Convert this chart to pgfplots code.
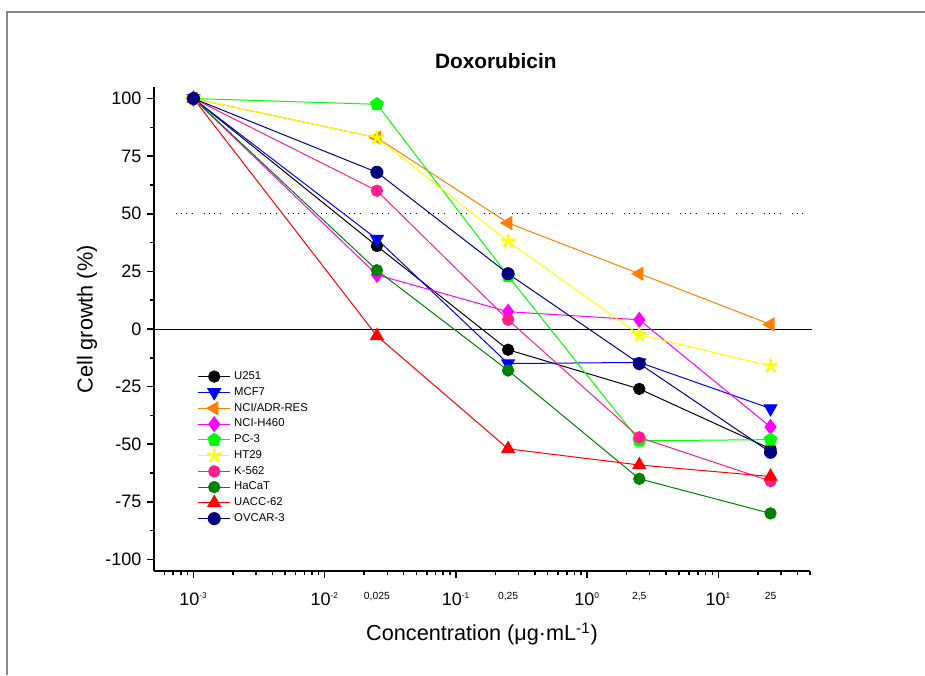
\documentclass[border=0pt]{standalone}
\usepackage{pgfplots}
\pgfplotsset{compat=1.18}
\usepackage{fontspec}
\setmainfont{Liberation Sans}
\usetikzlibrary{plotmarks}

\definecolor{cOrange}{RGB}{255,128,0}
\definecolor{cMagenta}{RGB}{255,0,255}
\definecolor{cGreen}{RGB}{0,255,0}
\definecolor{cYellow}{RGB}{255,255,0}
\definecolor{cPink}{RGB}{255,30,140}
\definecolor{cDkGreen}{RGB}{0,128,0}
\definecolor{cRed}{RGB}{255,0,0}
\definecolor{cNavy}{RGB}{0,0,128}
\definecolor{cBlue}{RGB}{0,0,255}
\definecolor{cFrame}{RGB}{136,136,136}

\begin{document}
\begin{tikzpicture}
\useasboundingbox (0,0) rectangle (555pt,405pt);
\draw[cFrame, line width=1.2pt] (4.2pt,0) -- (4.2pt,397.8pt) -- (555pt,397.8pt);
\begin{axis}[
  at={(92.4pt,62.4pt)}, anchor=south west, scale only axis,
  width=393.6pt, height=290.4pt,
  xmode=log, xmin=5e-4, xmax=50, ymin=-105, ymax=105,
  axis lines*=left,
  axis line style={line width=1pt},
  tick align=outside,
  major tick length=4pt, minor tick length=2.4pt,
  every tick/.style={black, line width=0.9pt},
  xtick={1e-3,1e-2,1e-1,1,10},
  xticklabels={10\textsuperscript{\tiny -3},10\textsuperscript{\tiny -2},10\textsuperscript{\tiny -1},10\textsuperscript{\tiny 0},10\textsuperscript{\tiny 1}},
  minor xtick={6e-4,7e-4,8e-4,9e-4,2e-3,3e-3,4e-3,5e-3,6e-3,7e-3,8e-3,9e-3,2e-2,3e-2,4e-2,5e-2,6e-2,7e-2,8e-2,9e-2,0.2,0.3,0.4,0.5,0.6,0.7,0.8,0.9,2,3,4,5,6,7,8,9,20,30,40,50},
  extra x ticks={0.025,0.25,2.5,25},
  extra x tick labels={{0,025},{0,25},{2,5},{25}},
  extra x tick style={major tick length=0pt, tick label style={font=\fontsize{6.2}{7}\selectfont, yshift=-4pt}},
  ytick={-100,-75,-50,-25,0,25,50,75,100},
  yticklabels={-100,-75,-50,-25,0,25,50,75,100},
  minor ytick={-87.5,-62.5,-37.5,-12.5,12.5,37.5,62.5,87.5},
  tick label style={font=\fontsize{10.8}{12}\selectfont},
  xticklabel style={yshift=-5.5pt},
  xlabel={Concentration (μg·mL\textsuperscript{-1})},
  ylabel={Cell growth (\%)},
  xlabel style={at={(axis description cs:0.5,-0.13)}, anchor=center, font=\fontsize{13}{15}\selectfont},
  ylabel style={at={(axis description cs:-0.102,0.52)}, anchor=center, font=\fontsize{13}{15}\selectfont},
  title={\textbf{Doxorubicin}},
  title style={at={(axis description cs:0.521,1.032)}, anchor=center, font=\fontsize{12.5}{14}\selectfont},
  legend cell align=left,
  legend style={at={(axis description cs:0.066,0.42)}, anchor=north west, draw=none, fill=none,
    font=\fontsize{6.8}{7.5}\selectfont, row sep=-0.8pt, inner sep=0pt},
  legend image code/.code={\draw[mark repeat=2,mark phase=2] plot coordinates {(0cm,0cm) (0.34cm,0cm) (0.68cm,0cm)};},
  clip=false,
]
\draw[black, line width=0.6pt] (axis cs:5e-4,0) -- (axis cs:52,0);
\draw[black, line width=0.6pt, dash pattern=on 0.6pt off 2.6pt on 0.6pt off 2.6pt on 0.6pt off 2.6pt on 0.6pt off 6.6pt] (axis cs:7.3e-4,50) -- (axis cs:47,50);

\addplot[color=black, line width=0.6pt, mark=*, mark size=3.4pt, mark options={solid}] coordinates {(0.001,100)(0.025,36)(0.25,-9)(2.5,-26)(25,-52)};
\addlegendentry{U251}
\addplot[color=cBlue, line width=0.6pt, mark=triangle*, mark size=4.4pt, mark options={solid,rotate=180}] coordinates {(0.001,100)(0.025,39)(0.25,-15)(2.5,-14.5)(25,-34.5)};
\addlegendentry{MCF7}
\addplot[color=cOrange, line width=0.6pt, mark=triangle*, mark size=4.4pt, mark options={solid,rotate=90}] coordinates {(0.001,100)(0.025,83)(0.25,46)(2.5,24)(25,2)};
\addlegendentry{NCI/ADR-RES}
\addplot[color=cMagenta, line width=0.6pt, mark=diamond*, mark size=4.4pt, mark options={solid}] coordinates {(0.001,100)(0.025,23.5)(0.25,7.5)(2.5,4)(25,-42.5)};
\addlegendentry{NCI-H460}
\addplot[color=cGreen, line width=0.6pt, mark=pentagon*, mark size=4pt, mark options={solid}] coordinates {(0.001,100)(0.025,97.5)(0.25,23)(2.5,-48.5)(25,-48)};
\addlegendentry{PC-3}
\addplot[color=cYellow, line width=0.6pt, mark=star, mark size=4.4pt, mark options={solid, line width=1.6pt}] coordinates {(0.001,100)(0.025,83)(0.25,38)(2.5,-2.5)(25,-16)};
\addlegendentry{HT29}
\addplot[color=cPink, line width=0.6pt, mark=*, mark size=3.4pt, mark options={solid}] coordinates {(0.001,100)(0.025,60)(0.25,4)(2.5,-47)(25,-66)};
\addlegendentry{K-562}
\addplot[color=cDkGreen, line width=0.6pt, mark=*, mark size=3.4pt, mark options={solid}] coordinates {(0.001,100)(0.025,25.5)(0.25,-18)(2.5,-65)(25,-80)};
\addlegendentry{HaCaT}
\addplot[color=cRed, line width=0.6pt, mark=triangle*, mark size=4.4pt, mark options={solid}] coordinates {(0.001,100)(0.025,-3)(0.25,-52)(2.5,-59)(25,-64)};
\addlegendentry{UACC-62}
\addplot[color=cNavy, line width=0.6pt, mark=*, mark size=3.6pt, mark options={solid}] coordinates {(0.001,100)(0.025,68)(0.25,24)(2.5,-15)(25,-53.5)};
\addlegendentry{OVCAR-3}
\end{axis}
\end{tikzpicture}
\end{document}
